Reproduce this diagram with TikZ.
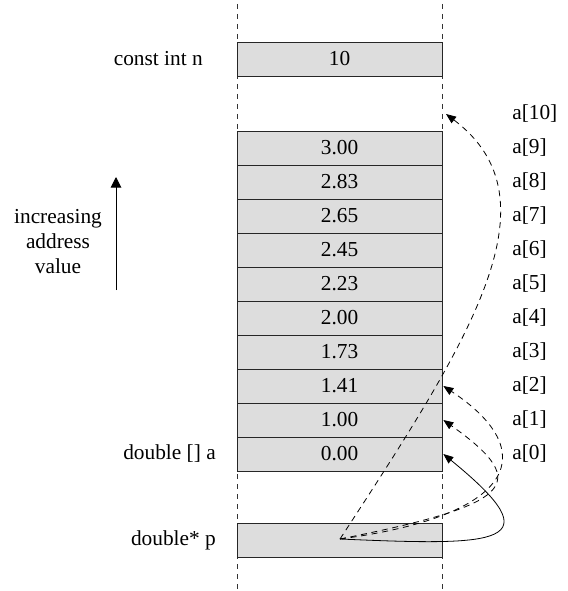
\documentclass[tikz,border=0pt]{standalone}
\usepackage{fontspec}
\setmainfont{Liberation Serif}
\usetikzlibrary{arrows.meta,positioning}
\definecolor{cellgray}{RGB}{221,221,221}

\begin{document}
\begin{tikzpicture}[x=0.75pt, y=-0.75pt, >={Triangle[width=6pt,length=7.5pt]},
    font=\fontsize{16}{18.75}\selectfont,
    cell/.style={draw=black!85, line width=0.7pt, fill=cellgray, minimum width=153.75pt,
        minimum height=25.5pt, inner sep=0pt, outer sep=0pt},
    vartext/.style={inner sep=0pt},
    idx/.style={inner sep=0pt},
    guide/.style={dash pattern=on 3.75pt off 3.75pt, line width=0.6pt, black!80},
    upward/.style={-{Triangle[width=8pt,length=8pt]}, line width=0.75pt},
    ptr/.style={->, line width=0.6pt},
    ptrdash/.style={ptr, dash pattern=on 4.5pt off 3.5pt}]

    \useasboundingbox (0,0) rectangle (567,591);

    % Guides at the cell edges
    \coordinate (lt) at (237,4);
    \coordinate (lb) at (237,591);
    \coordinate (rt) at (442,4);
    \coordinate (rb) at (442,591);
    \draw [guide] (lt) -- (lb);
    \draw [guide] (rt) -- (rb);

    % Cells {n, a9, ..., a0, p}
    \node [cell]                    (n)  at (339.5,59)  {10};
    \node [cell]                    (a9) at (339.5,148) {3.00};
    \node [cell, below=0pt of a9]   (a8)                {2.83};
    \node [cell, below=0pt of a8]   (a7)                {2.65};
    \node [cell, below=0pt of a7]   (a6)                {2.45};
    \node [cell, below=0pt of a6]   (a5)                {2.23};
    \node [cell, below=0pt of a5]   (a4)                {2.00};
    \node [cell, below=0pt of a4]   (a3)                {1.73};
    \node [cell, below=0pt of a3]   (a2)                {1.41};
    \node [cell, below=0pt of a2]   (a1)                {1.00};
    \node [cell, below=0pt of a1]   (a0)                {0.00};
    \node [cell]                    (p)  at (339.5,540) {};
    \coordinate (top) at (442,114);

    % Variable names
    \node [vartext, left=25.5pt of n]  (nname) {const int n};
    \node [vartext, left=15.75pt of a0] (aname) {double [] a};
    \node [vartext, left=15.75pt of p]  (pname) {double* p};

    % Indices
    \node [idx, right=52.5pt of top] (i10) {a[10]};
    \node [idx, right=52.5pt of a9]  (i9)  {a[9]};
    \node [idx, right=52.5pt of a8]  (i8)  {a[8]};
    \node [idx, right=52.5pt of a7]  (i7)  {a[7]};
    \node [idx, right=52.5pt of a6]  (i6)  {a[6]};
    \node [idx, right=52.5pt of a5]  (i5)  {a[5]};
    \node [idx, right=52.5pt of a4]  (i4)  {a[4]};
    \node [idx, right=52.5pt of a3]  (i3)  {a[3]};
    \node [idx, right=52.5pt of a2]  (i2)  {a[2]};
    \node [idx, right=52.5pt of a1]  (i1)  {a[1]};
    \node [idx, right=52.5pt of a0]  (i0)  {a[0]};

    % Address direction
    \node [vartext, align=center] (dir) at (58,242) {increasing\\address\\value};
    \coordinate (up0) at (116,290);
    \coordinate (up1) at (116,177);
    \draw [upward] (up0) -- (up1);

    % Pointer paths
    \coordinate (src) at (340,539);
    \draw [ptr]     (src) .. controls (500,546) and (555,545) .. ([xshift=1pt]a0.east);
    \draw [ptrdash] (src) .. controls (510,505) and (535,485) .. ([xshift=1pt]a1.east);
    \draw [ptrdash] (src) .. controls (520,515) and (540,450) .. ([xshift=1pt]a2.east);
    \draw [ptrdash] (src) .. controls (470,340) and (560,200) .. ([xshift=3pt]top);
\end{tikzpicture}
\end{document}
